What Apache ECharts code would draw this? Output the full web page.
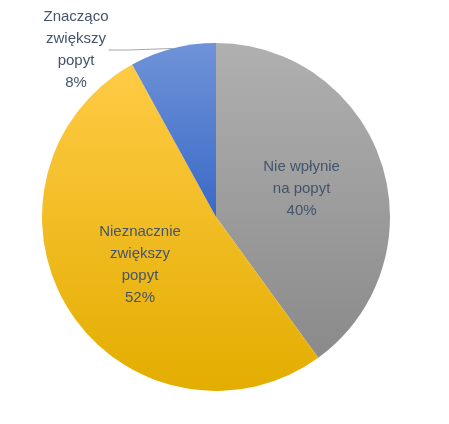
<!DOCTYPE html>
<html>
<head>
<meta charset="UTF-8">
<script src="https://cdn.jsdelivr.net/npm/echarts/dist/echarts.min.js"></script>
<style>
  body { margin: 0; background: #fff; }
  #chart { width: 449px; height: 424px; }
</style>
</head>
<body>
<div id="chart"></div>
<script>
  const categories = ['Nie wpłynie\nna popyt', 'Nieznacznie\nzwiększy\npopyt', 'Znacząco\nzwiększy\npopyt'];
  const values = [40, 52, 8];
  const colors = [
    ['#b0b0b0', '#8a8a8a'],
    ['#ffcb45', '#e3ad00'],
    ['#6f93d8', '#3a69c6']
  ];

  const chart = echarts.init(document.getElementById('chart'));
  chart.setOption({
    animation: false,
    series: [{
      type: 'pie',
      center: [216, 217],
      radius: 174,
      startAngle: 90,
      clockwise: true,
      data: categories.map((name, i) => ({
        name: name,
        value: values[i],
        itemStyle: {
          color: new echarts.graphic.LinearGradient(0, 0, 0, 1, [
            { offset: 0, color: colors[i][0] },
            { offset: 1, color: colors[i][1] }
          ])
        },
        label: i === 2 ? { position: 'outside' } : { position: 'inner' },
        labelLine: { show: i === 2, length: 10, length2: 20, lineStyle: { color: '#a6a6a6', width: 1 } }
      })),
      label: {
        formatter: '{b}\n{d}%',
        color: '#44546a',
        fontSize: 15,
        lineHeight: 22,
        align: 'center',
        fontFamily: 'Liberation Sans, Arial, sans-serif'
      },
      labelLayout: function (p) {
        if (p.dataIndex === 2) {
          return { x: 76, y: 50, align: 'center', verticalAlign: 'middle' };
        }
        return {};
      }
    }]
  });
</script>
</body>
</html>
